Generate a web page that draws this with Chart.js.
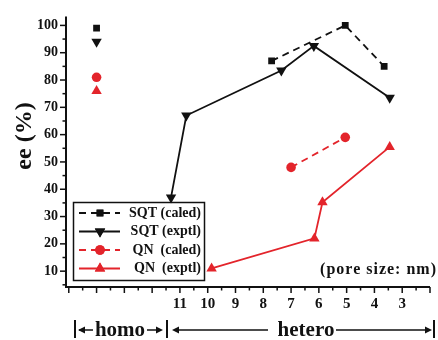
<!DOCTYPE html>
<html><head><meta charset="utf-8">
<script src="https://cdn.jsdelivr.net/npm/chart.js@4/dist/chart.umd.min.js"></script>
<style>html,body{margin:0;padding:0;background:#fff;}#wrap{width:438px;height:340px;}</style>
</head><body><div id="wrap"><canvas id="c" width="438" height="340"></canvas></div>
<script>
// ---- data ----
const homoPore = [14];
const homoSQTcaled = [99];
const homoSQTexptl = [94];
const homoQNcaled = [81];
const homoQNexptl = [76];

const sqtCaledPore = [7.7, 5.05, 3.65];
const sqtCaledEE   = [87, 100, 85];
const sqtExptlPore = [11.32, 10.77, 7.35, 6.18, 3.45];
const sqtExptlEE   = [37, 67, 83.5, 92.5, 73.5];
const qnCaledPore  = [7.0, 5.05];
const qnCaledEE    = [48, 59];
const qnExptlPore  = [9.86, 6.16, 5.87, 3.45];
const qnExptlEE    = [11, 22, 35.2, 55.5];

const xTickLabels = [3, 4, 5, 6, 7, 8, 9, 10, 11];
const yTickLabels = [10, 20, 30, 40, 50, 60, 70, 80, 90, 100];
const legendLabels = ['SQT (caled)', 'SQT (exptl)', 'QN  (caled)', 'QN  (exptl)'];

const BLACK = '#111111', RED = '#e3242b';
const FONT = "'Liberation Serif', 'Times New Roman', serif";
const pts = (xs, ys) => xs.map((x, i) => ({x: x, y: ys[i]}));

const styles = [
  {color: BLACK, dash: [7, 5], pointStyle: 'rect', radius: 4.8, rot: 0},
  {color: BLACK, dash: [], pointStyle: 'triangle', radius: 6, rot: 180},
  {color: RED, dash: [7, 5], pointStyle: 'circle', radius: 4.8, rot: 0},
  {color: RED, dash: [], pointStyle: 'triangle', radius: 6, rot: 0},
];
function ds(data, s, line) {
  return {data: data, showLine: line, borderColor: s.color, backgroundColor: s.color,
    borderWidth: 1.8, borderDash: s.dash, pointStyle: s.pointStyle, pointRadius: s.radius,
    pointRotation: s.rot, pointBorderWidth: 0, pointBackgroundColor: s.color, pointBorderColor: s.color};
}
const datasets = [
  ds(pts(sqtCaledPore, sqtCaledEE), styles[0], true),
  ds(pts(sqtExptlPore, sqtExptlEE), styles[1], true),
  ds(pts(qnCaledPore, qnCaledEE), styles[2], true),
  ds(pts(qnExptlPore, qnExptlEE), styles[3], true),
  ds(pts(homoPore, homoSQTcaled), styles[0], false),
  ds(pts(homoPore, homoSQTexptl), styles[1], false),
  ds(pts(homoPore, homoQNcaled), styles[2], false),
  ds(pts(homoPore, homoQNexptl), styles[3], false),
];

function drawMarker(ctx, s, x, y) {
  ctx.save();
  ctx.fillStyle = s.color;
  Chart.helpers.drawPoint(ctx, {pointStyle: s.pointStyle, radius: s.radius, rotation: s.rot, borderWidth: 0}, x, y);
  ctx.fill();
  ctx.restore();
}

function arrowHead(ctx, x, y, dir) {
  ctx.beginPath();
  ctx.moveTo(x, y);
  ctx.lineTo(x - dir * 7, y - 3.5);
  ctx.lineTo(x - dir * 7, y + 3.5);
  ctx.closePath();
  ctx.fill();
}

const deco = {
  id: 'deco',
  afterDraw(chart) {
    const ctx = chart.ctx, ca = chart.chartArea;
    const xs = chart.scales.x, ys = chart.scales.y;
    ctx.save();
    ctx.strokeStyle = BLACK; ctx.fillStyle = BLACK;
    // axes
    ctx.lineWidth = 2;
    ctx.beginPath();
    ctx.moveTo(ca.left, ca.top); ctx.lineTo(ca.left, ca.bottom); ctx.lineTo(ca.right, ca.bottom);
    ctx.stroke();
    // ticks
    ctx.lineWidth = 1.5;
    ys.ticks.forEach(t => {
      const p = ys.getPixelForValue(t.value);
      const len = (t.value % 10 === 0) ? 6 : 3.5;
      ctx.beginPath(); ctx.moveTo(ca.left, p); ctx.lineTo(ca.left - len, p); ctx.stroke();
    });
    xs.ticks.forEach(t => {
      const p = xs.getPixelForValue(t.value);
      const len = (Math.abs(t.value - Math.round(t.value)) < 1e-6) ? 6 : 3.5;
      ctx.beginPath(); ctx.moveTo(p, ca.bottom); ctx.lineTo(p, ca.bottom + len); ctx.stroke();
    });
    // y title
    ctx.save();
    ctx.translate(25, 136);
    ctx.rotate(-Math.PI / 2);
    ctx.font = 'bold 24px ' + FONT;
    ctx.textAlign = 'center'; ctx.textBaseline = 'middle';
    ctx.fillText('ee (%)', 0, 0);
    ctx.restore();
    // pore size note
    ctx.save();
    ctx.font = 'bold 16px ' + FONT;
    ctx.letterSpacing = '1px';
    ctx.textAlign = 'right'; ctx.textBaseline = 'middle';
    ctx.fillText('(pore size: nm)', 437, 270);
    ctx.restore();
    // legend box
    ctx.lineWidth = 1.5;
    ctx.strokeRect(73.5, 202.5, 131, 78);
    const rows = [213, 231.5, 250, 268.5];
    rows.forEach((ry, i) => {
      const s = styles[i];
      ctx.save();
      ctx.strokeStyle = s.color; ctx.lineWidth = 1.8; ctx.setLineDash(s.dash);
      ctx.beginPath(); ctx.moveTo(79, ry); ctx.lineTo(120, ry); ctx.stroke();
      ctx.restore();
      drawMarker(ctx, s, 100, ry);
      ctx.save();
      ctx.fillStyle = BLACK;
      ctx.font = 'bold 14px ' + FONT;
      ctx.textAlign = 'right'; ctx.textBaseline = 'middle';
      ctx.fillText(legendLabels[i], 201, ry);
      ctx.restore();
    });
    // homo / hetero bracket row
    const yb = 330;
    ctx.lineWidth = 2;
    [75, 167, 434].forEach(x => { ctx.beginPath(); ctx.moveTo(x, 320); ctx.lineTo(x, 338); ctx.stroke(); });
    ctx.lineWidth = 1.5;
    ctx.beginPath(); ctx.moveTo(79, yb); ctx.lineTo(93, yb); ctx.stroke(); arrowHead(ctx, 78, yb, -1);
    ctx.beginPath(); ctx.moveTo(147, yb); ctx.lineTo(160, yb); ctx.stroke(); arrowHead(ctx, 163, yb, 1);
    ctx.beginPath(); ctx.moveTo(174, yb); ctx.lineTo(268, yb); ctx.stroke(); arrowHead(ctx, 172, yb, -1);
    ctx.beginPath(); ctx.moveTo(336, yb); ctx.lineTo(428, yb); ctx.stroke(); arrowHead(ctx, 432, yb, 1);
    ctx.font = 'bold 21px ' + FONT;
    ctx.textAlign = 'center'; ctx.textBaseline = 'alphabetic';
    ctx.fillText('homo', 120, 336);
    ctx.fillText('hetero', 306, 336);
    ctx.restore();
  }
};

new Chart(document.getElementById('c'), {
  type: 'scatter',
  data: {datasets: datasets},
  options: {
    responsive: false, animation: false, devicePixelRatio: 1,
    layout: {padding: {left: 0, top: 15, right: 8, bottom: 0}},
    plugins: {legend: {display: false}, tooltip: {enabled: false}},
    scales: {
      x: {
        type: 'linear', reverse: true, min: 2, max: 15.1,
        border: {display: false},
        grid: {display: false, drawTicks: false},
        afterFit: s => { s.height = 53; },
        afterBuildTicks: s => {
          const t = [];
          for (let v = 2; v <= 15; v += 0.5) t.push({value: v});
          s.ticks = t;
        },
        ticks: {
          autoSkip: false, maxRotation: 0, padding: 8, color: BLACK,
          font: {family: FONT, size: 15, weight: 'bold'},
          callback: v => xTickLabels.includes(v) ? String(v) : ''
        }
      },
      y: {
        type: 'linear', min: 4.2, max: 103.3,
        border: {display: false},
        grid: {display: false, drawTicks: false},
        afterFit: s => { s.width = 66; },
        afterBuildTicks: s => {
          const t = [];
          for (let v = 5; v <= 100; v += 5) t.push({value: v});
          s.ticks = t;
        },
        ticks: {
          autoSkip: false, padding: 8, color: BLACK,
          font: {family: FONT, size: 14, weight: 'bold'},
          callback: v => yTickLabels.includes(v) ? String(v) : ''
        }
      }
    }
  },
  plugins: [deco]
});
</script></body></html>
